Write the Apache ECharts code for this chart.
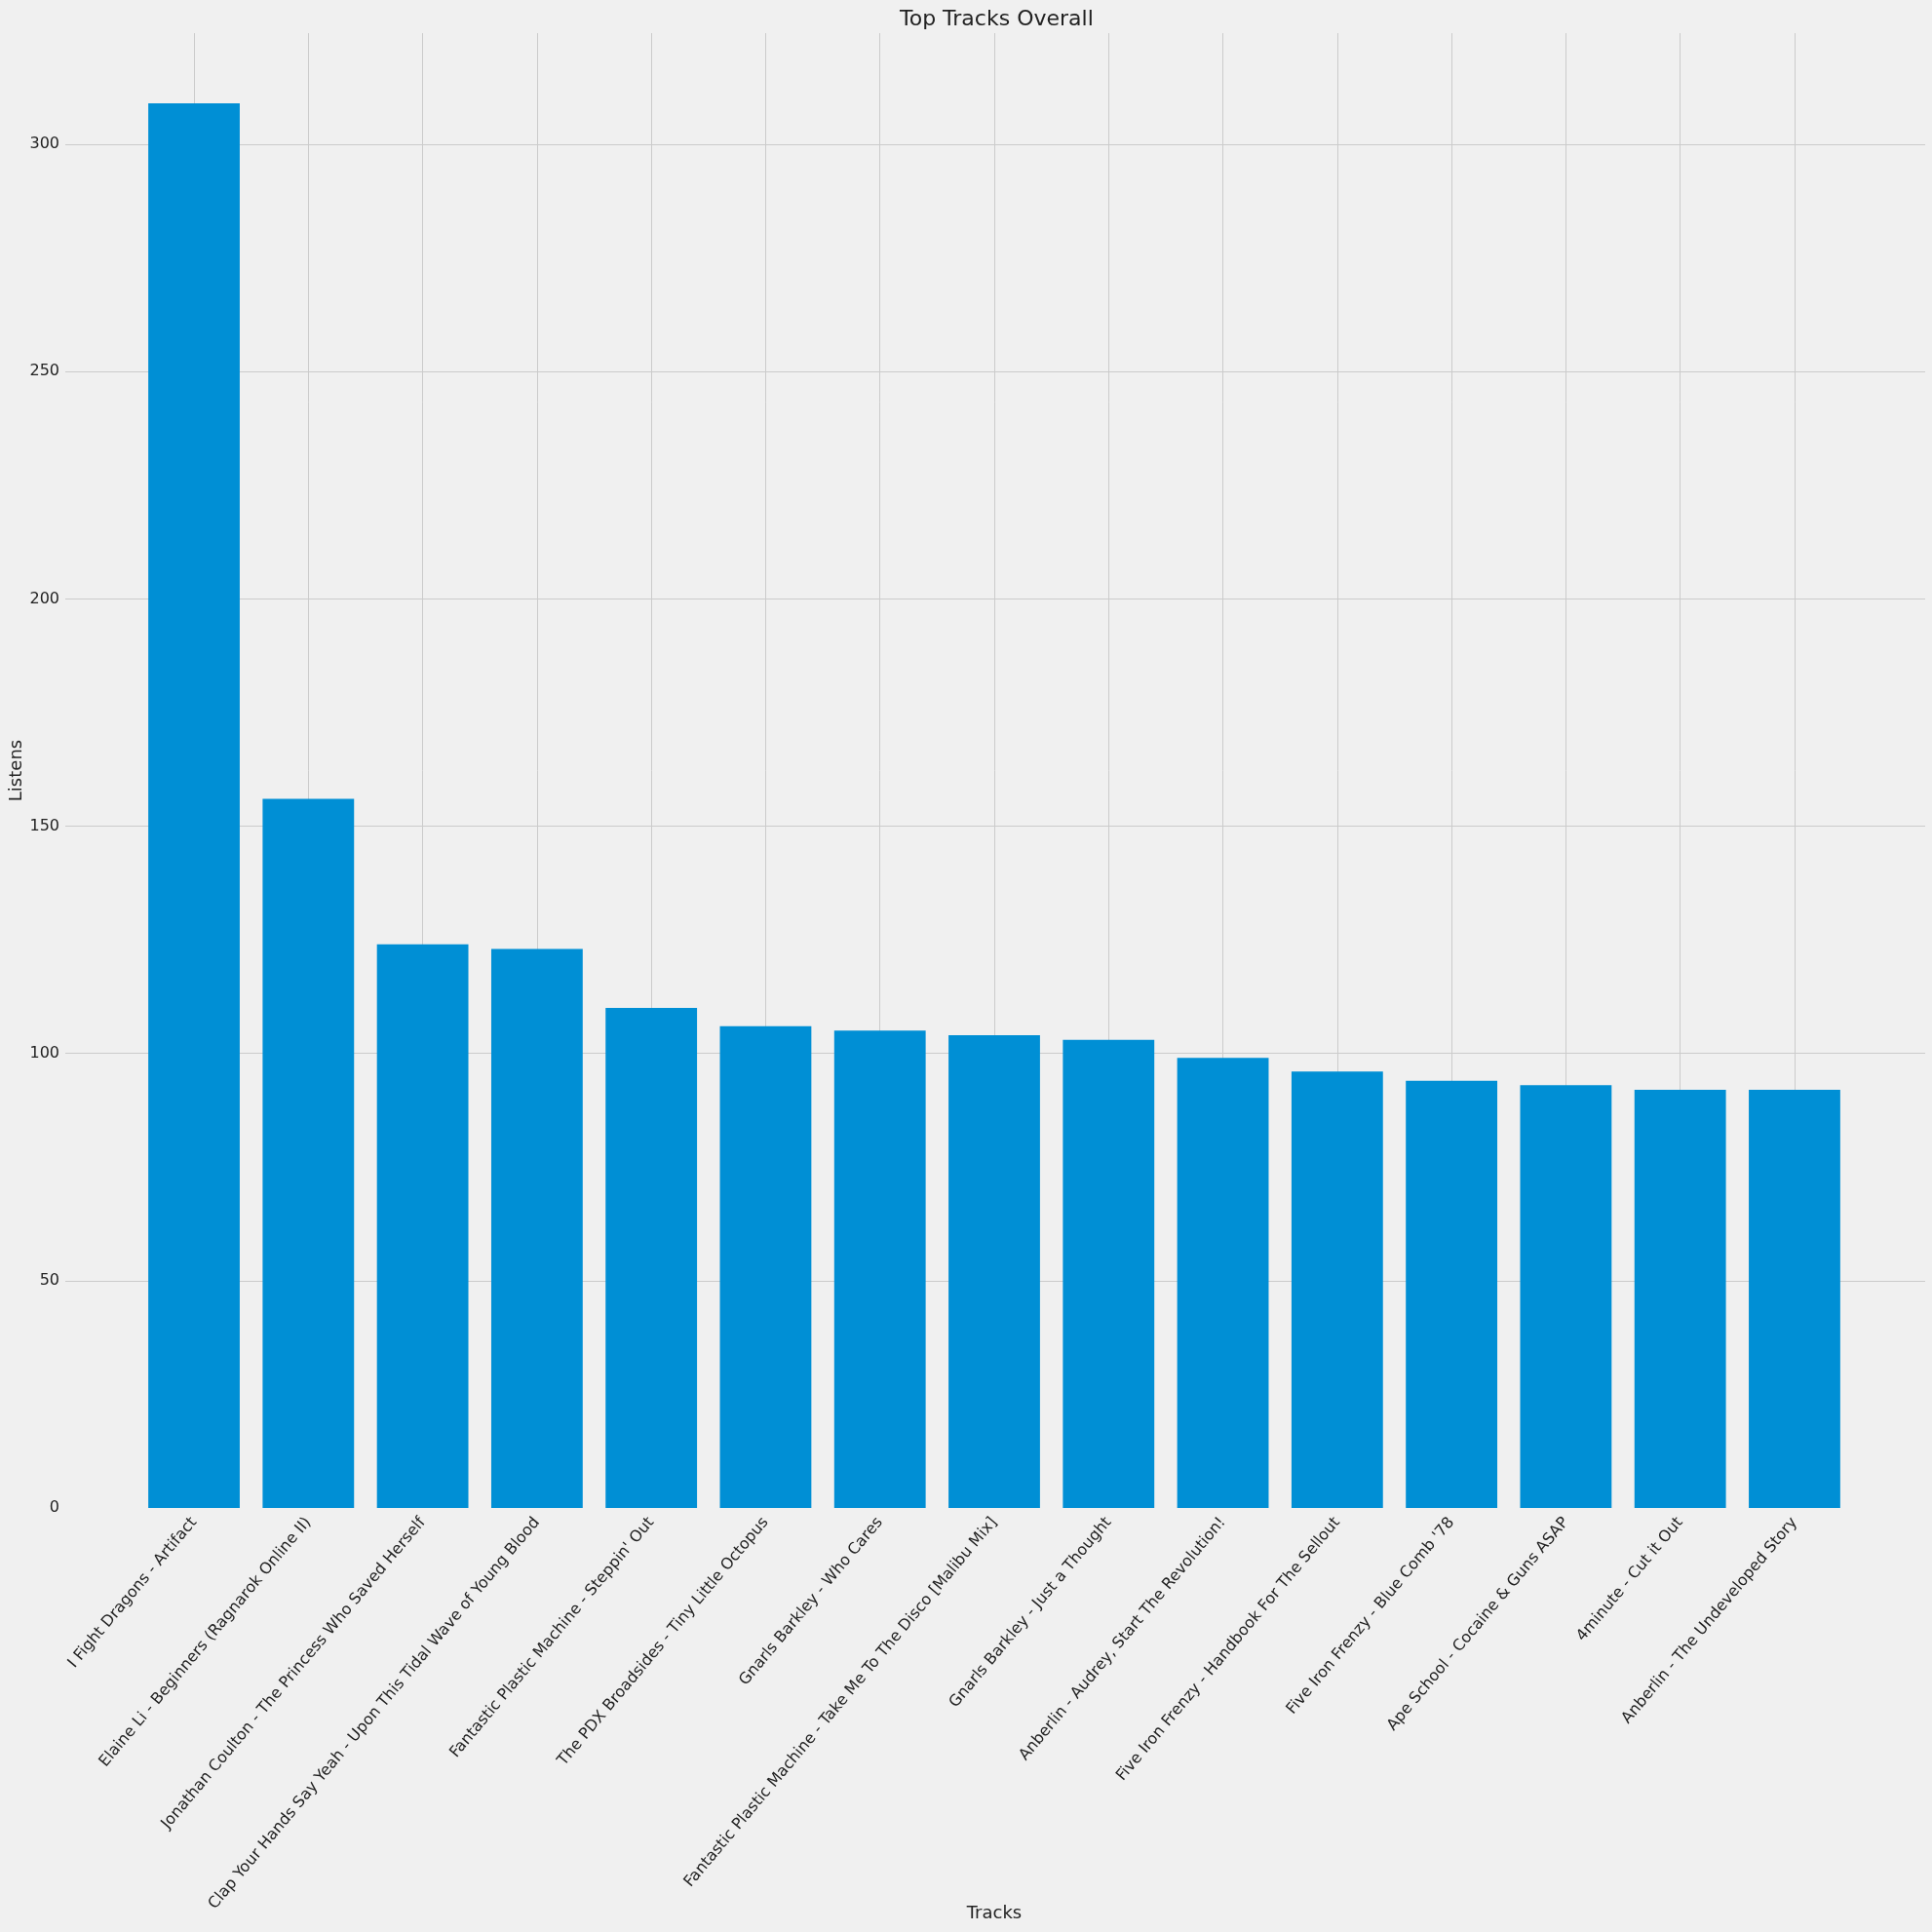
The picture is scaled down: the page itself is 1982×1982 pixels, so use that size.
<!DOCTYPE html>
<html>
<head>
<meta charset="utf-8">
<title>Top Tracks Overall</title>
<script src="https://cdn.jsdelivr.net/npm/echarts@6/dist/echarts.min.js"></script>
<style>
  html, body { margin: 0; padding: 0; background: #f0f0f0; }
  #main { width: 1982px; height: 1982px; }
</style>
</head>
<body>
<div id="main"></div>
<script>
// track names (x categories)
var tracks = [
  'I Fight Dragons - Artifact',
  'Elaine Li - Beginners (Ragnarok Online II)',
  'Jonathan Coulton - The Princess Who Saved Herself',
  'Clap Your Hands Say Yeah - Upon This Tidal Wave of Young Blood',
  "Fantastic Plastic Machine - Steppin' Out",
  'The PDX Broadsides - Tiny Little Octopus',
  'Gnarls Barkley - Who Cares',
  'Fantastic Plastic Machine - Take Me To The Disco [Malibu Mix]',
  'Gnarls Barkley - Just a Thought',
  'Anberlin - Audrey, Start The Revolution!',
  'Five Iron Frenzy - Handbook For The Sellout',
  "Five Iron Frenzy - Blue Comb '78",
  'Ape School - Cocaine & Guns ASAP',
  '4minute - Cut it Out',
  'Anberlin - The Undeveloped Story'
];
// listens per track
var listens = [309, 156, 124, 123, 110, 106, 105, 104, 103, 99, 96, 94, 93, 92, 92];
// y axis range and tick step
var yMin = 0;
var yMax = 324.45;
var yStep = 50;

var chart = echarts.init(document.getElementById('main'));
var txt = '#222222';
var gridColor = '#cbcbcb';

var option = {
  animation: false,
  backgroundColor: '#f0f0f0',
  textStyle: { fontFamily: 'DejaVu Sans' },
  title: {
    text: 'Top Tracks Overall',
    left: 918,
    top: 4,
    textStyle: { fontSize: 22, fontWeight: 'normal', color: txt, fontFamily: 'DejaVu Sans' }
  },
  grid: [
    // full axes area: horizontal grid lines and y labels
    { left: 67, right: 7, top: 34, bottom: 435, outerBoundsMode: 'none' },
    // bars area (matplotlib margins leave extra room on both sides)
    { left: 140.4, right: 82.4, top: 34, bottom: 435, outerBoundsMode: 'none' }
  ],
  xAxis: [
    { gridIndex: 0, type: 'value', min: 0, max: 1, show: false },
    {
      gridIndex: 1,
      type: 'category',
      data: tracks,
      axisLine: { show: false },
      axisTick: { show: false },
      axisLabel: { interval: 0, rotate: 50, fontSize: 16, color: txt, margin: 12 },
      splitLine: { show: true, alignWithLabel: true, lineStyle: { color: gridColor, width: 1 } },
      name: 'Tracks',
      nameLocation: 'middle',
      nameGap: 407,
      nameMoveOverlap: false,
      nameTextStyle: { fontSize: 18, color: txt }
    }
  ],
  yAxis: [
    {
      gridIndex: 0,
      type: 'value',
      min: yMin,
      max: yMax,
      interval: yStep,
      axisLine: { show: false },
      axisTick: { show: false },
      axisLabel: { fontSize: 16, color: txt, margin: 6, showMaxLabel: false },
      splitLine: {
        show: true,
        showMinLine: false,
        showMaxLine: false,
        lineStyle: { color: gridColor, width: 1 }
      },
      name: 'Listens',
      nameLocation: 'middle',
      nameRotate: 90,
      nameGap: 41,
      nameMoveOverlap: false,
      nameTextStyle: { fontSize: 18, color: txt }
    },
    { gridIndex: 1, type: 'value', min: yMin, max: yMax, show: false }
  ],
  series: [
    {
      name: 'Listens',
      type: 'bar',
      xAxisIndex: 1,
      yAxisIndex: 1,
      data: listens,
      barWidth: '80%',
      itemStyle: { color: '#008fd5' }
    }
  ]
};
chart.setOption(option);
</script>
</body>
</html>
